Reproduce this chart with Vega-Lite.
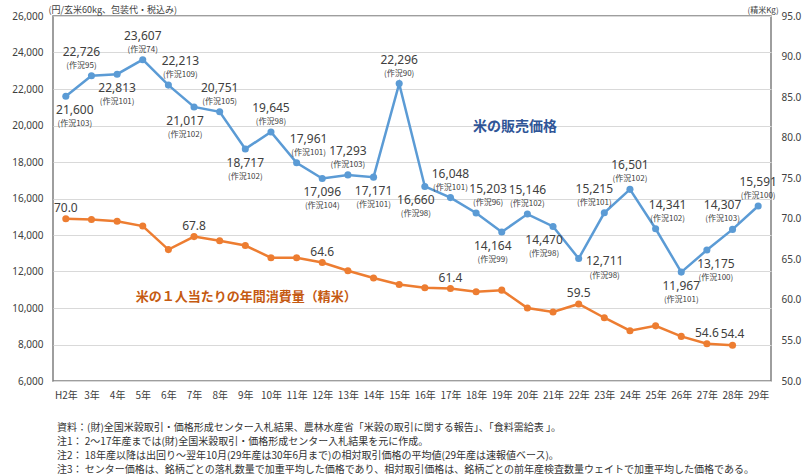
{
  "$schema": "https://vega.github.io/schema/vega-lite/v6.json",
  "width": 718,
  "height": 365,
  "autosize": {"type": "none"},
  "padding": {"left": 53, "top": 16, "right": 39, "bottom": 95},
  "background": "white",
  "config": {
    "view": {"stroke": "#7f7f7f", "strokeWidth": 1.5},
    "axis": {"labelColor": "#404040", "titleColor": "#404040"}
  },
  "title": {
    "text": [
      "資料：(財)全国米穀取引・価格形成センター入札結果、農林水産省「米穀の取引に関する報告」、「食料需給表 」。",
      "注1：  2～17年産までは(財)全国米穀取引・価格形成センター入札結果を元に作成。",
      "注2：  18年産以降は出回り～翌年10月(29年産は30年6月まで)の相対取引価格の平均値(29年産は速報値ベース)。",
      "注3：  センター価格は、銘柄ごとの落札数量で加重平均した価格であり、相対取引価格は、銘柄ごとの前年産検査数量ウェイトで加重平均した価格である。"
    ],
    "orient": "bottom",
    "anchor": "start",
    "frame": "group",
    "offset": 23,
    "dx": 4,
    "fontSize": 10,
    "fontWeight": "normal",
    "font": "Noto Sans CJK JP",
    "color": "#333333",
    "lineHeight": 14
  },
  "data": {
    "values": [
      {"year": "H2年", "price": 21600, "crop": "(作況103)", "cons": 70.0},
      {"year": "3年", "price": 22726, "crop": "(作況95)", "cons": 69.9},
      {"year": "4年", "price": 22813, "crop": "(作況101)", "cons": 69.7},
      {"year": "5年", "price": 23607, "crop": "(作況74)", "cons": 69.1},
      {"year": "6年", "price": 22213, "crop": "(作況109)", "cons": 66.2},
      {"year": "7年", "price": 21017, "crop": "(作況102)", "cons": 67.8},
      {"year": "8年", "price": 20751, "crop": "(作況105)", "cons": 67.3},
      {"year": "9年", "price": 18717, "crop": "(作況102)", "cons": 66.7},
      {"year": "10年", "price": 19645, "crop": "(作況98)", "cons": 65.2},
      {"year": "11年", "price": 17961, "crop": "(作況101)", "cons": 65.2},
      {"year": "12年", "price": 17096, "crop": "(作況104)", "cons": 64.6},
      {"year": "13年", "price": 17293, "crop": "(作況103)", "cons": 63.6},
      {"year": "14年", "price": 17171, "crop": "(作況101)", "cons": 62.7},
      {"year": "15年", "price": 22296, "crop": "(作況90)", "cons": 61.9},
      {"year": "16年", "price": 16660, "crop": "(作況98)", "cons": 61.5},
      {"year": "17年", "price": 16048, "crop": "(作況101)", "cons": 61.4},
      {"year": "18年", "price": 15203, "crop": "(作況96)", "cons": 61.0},
      {"year": "19年", "price": 14164, "crop": "(作況99)", "cons": 61.2},
      {"year": "20年", "price": 15146, "crop": "(作況102)", "cons": 59.0},
      {"year": "21年", "price": 14470, "crop": "(作況98)", "cons": 58.5},
      {"year": "22年", "price": 12711, "crop": "(作況98)", "cons": 59.5},
      {"year": "23年", "price": 15215, "crop": "(作況101)", "cons": 57.8},
      {"year": "24年", "price": 16501, "crop": "(作況102)", "cons": 56.2},
      {"year": "25年", "price": 14341, "crop": "(作況102)", "cons": 56.8},
      {"year": "26年", "price": 11967, "crop": "(作況101)", "cons": 55.5},
      {"year": "27年", "price": 13175, "crop": "(作況100)", "cons": 54.6},
      {"year": "28年", "price": 14307, "crop": "(作況103)", "cons": 54.4},
      {"year": "29年", "price": 15591, "crop": "(作況100)"}
    ]
  },
  "encoding": {
    "x": {
      "field": "year",
      "type": "ordinal",
      "sort": null,
      "scale": {
        "type": "point",
        "padding": 0.5,
        "domain": ["H2年", "3年", "4年", "5年", "6年", "7年", "8年", "9年", "10年", "11年", "12年", "13年", "14年", "15年", "16年", "17年", "18年", "19年", "20年", "21年", "22年", "23年", "24年", "25年", "26年", "27年", "28年", "29年"]
      },
      "axis": {
        "title": null,
        "labelAngle": 0,
        "ticks": false,
        "domain": false,
        "labelPadding": 9,
        "labelFont": "Noto Sans CJK JP",
        "labelFontSize": 10,
        "labelColor": "#404040"
      }
    }
  },
  "layer": [
    {
      "encoding": {
        "y": {
          "field": "price",
          "type": "quantitative",
          "scale": {"domain": [6000, 26000], "nice": false, "zero": false},
          "axis": {
            "orient": "left",
            "values": [6000, 8000, 10000, 12000, 14000, 16000, 18000, 20000, 22000, 24000, 26000],
            "format": ",d",
            "grid": true,
            "gridColor": "#d9d9d9",
            "gridWidth": 1,
            "domain": false,
            "ticks": false,
            "labelPadding": 10,
            "labelFont": "Noto Sans",
            "labelFontSize": 10,
            "title": "(円/玄米60kg、包装代・税込み)",
            "titleAngle": 0,
            "titleX": -5,
            "titleY": -7,
            "titleAlign": "left",
            "titleBaseline": "middle",
            "titleFont": "Noto Sans CJK JP",
            "titleFontSize": 9,
            "titleFontWeight": "normal"
          }
        }
      },
      "layer": [
        {"mark": {"type": "line", "color": "#5B9BD5", "strokeWidth": 2.5}},
        {"mark": {"type": "circle", "color": "#5B9BD5", "size": 50, "opacity": 1}},
        {
          "transform": [{"filter": {"field": "year", "oneOf": ["5年", "8年", "10年", "13年", "15年", "17年", "20年", "24年", "29年"]}}],
          "mark": {"type": "text", "dy": -24, "font": "Noto Sans", "fontSize": 12, "color": "#404040", "baseline": "middle"},
          "encoding": {"text": {"field": "price", "type": "quantitative", "format": ",d"}}
        },
        {
          "transform": [{"filter": {"field": "year", "oneOf": ["5年", "8年", "10年", "13年", "15年", "17年", "20年", "24年", "29年"]}}],
          "mark": {"type": "text", "dy": -10, "font": "Noto Sans CJK JP", "fontSize": 8, "color": "#404040", "baseline": "middle"},
          "encoding": {"text": {"field": "crop"}}
        },
        {
          "transform": [{"filter": {"field": "year", "oneOf": ["6年", "11年", "18年", "25年"]}}],
          "mark": {"type": "text", "dy": -24, "dx": 12, "font": "Noto Sans", "fontSize": 12, "color": "#404040", "baseline": "middle"},
          "encoding": {"text": {"field": "price", "type": "quantitative", "format": ",d"}}
        },
        {
          "transform": [{"filter": {"field": "year", "oneOf": ["6年", "11年", "18年", "25年"]}}],
          "mark": {"type": "text", "dy": -10, "dx": 12, "font": "Noto Sans CJK JP", "fontSize": 8, "color": "#404040", "baseline": "middle"},
          "encoding": {"text": {"field": "crop"}}
        },
        {
          "transform": [{"filter": {"field": "year", "oneOf": ["3年", "23年", "28年"]}}],
          "mark": {"type": "text", "dy": -24, "dx": -10, "font": "Noto Sans", "fontSize": 12, "color": "#404040", "baseline": "middle"},
          "encoding": {"text": {"field": "price", "type": "quantitative", "format": ",d"}}
        },
        {
          "transform": [{"filter": {"field": "year", "oneOf": ["3年", "23年", "28年"]}}],
          "mark": {"type": "text", "dy": -10, "dx": -10, "font": "Noto Sans CJK JP", "fontSize": 8, "color": "#404040", "baseline": "middle"},
          "encoding": {"text": {"field": "crop"}}
        },
        {
          "transform": [{"filter": {"field": "year", "oneOf": ["4年", "9年", "12年", "14年", "26年"]}}],
          "mark": {"type": "text", "dy": 14, "font": "Noto Sans", "fontSize": 12, "color": "#404040", "baseline": "middle"},
          "encoding": {"text": {"field": "price", "type": "quantitative", "format": ",d"}}
        },
        {
          "transform": [{"filter": {"field": "year", "oneOf": ["4年", "9年", "12年", "14年", "26年"]}}],
          "mark": {"type": "text", "dy": 28, "font": "Noto Sans CJK JP", "fontSize": 8, "color": "#404040", "baseline": "middle"},
          "encoding": {"text": {"field": "crop"}}
        },
        {
          "transform": [{"filter": {"field": "year", "oneOf": ["7年", "16年", "19年", "21年"]}}],
          "mark": {"type": "text", "dy": 14, "dx": -9, "font": "Noto Sans", "fontSize": 12, "color": "#404040", "baseline": "middle"},
          "encoding": {"text": {"field": "price", "type": "quantitative", "format": ",d"}}
        },
        {
          "transform": [{"filter": {"field": "year", "oneOf": ["7年", "16年", "19年", "21年"]}}],
          "mark": {"type": "text", "dy": 28, "dx": -9, "font": "Noto Sans CJK JP", "fontSize": 8, "color": "#404040", "baseline": "middle"},
          "encoding": {"text": {"field": "crop"}}
        },
        {
          "transform": [{"filter": {"field": "year", "oneOf": ["H2年", "27年"]}}],
          "mark": {"type": "text", "dy": 14, "dx": 9, "font": "Noto Sans", "fontSize": 12, "color": "#404040", "baseline": "middle"},
          "encoding": {"text": {"field": "price", "type": "quantitative", "format": ",d"}}
        },
        {
          "transform": [{"filter": {"field": "year", "oneOf": ["H2年", "27年"]}}],
          "mark": {"type": "text", "dy": 28, "dx": 9, "font": "Noto Sans CJK JP", "fontSize": 8, "color": "#404040", "baseline": "middle"},
          "encoding": {"text": {"field": "crop"}}
        },
        {
          "transform": [{"filter": {"field": "year", "oneOf": ["22年"]}}],
          "mark": {"type": "text", "dx": 26, "dy": 2, "font": "Noto Sans", "fontSize": 12, "color": "#404040", "baseline": "middle"},
          "encoding": {"text": {"field": "price", "type": "quantitative", "format": ",d"}}
        },
        {
          "transform": [{"filter": {"field": "year", "oneOf": ["22年"]}}],
          "mark": {"type": "text", "dx": 26, "dy": 17, "font": "Noto Sans CJK JP", "fontSize": 8, "color": "#404040", "baseline": "middle"},
          "encoding": {"text": {"field": "crop"}}
        },
        {
          "transform": [{"filter": {"field": "year", "equal": "18年"}}],
          "mark": {"type": "text", "align": "left", "baseline": "middle", "dx": -3, "font": "Noto Sans CJK JP", "fontSize": 14, "fontWeight": "bold", "color": "#2F5597"},
          "encoding": {
            "y": {"datum": 19900, "type": "quantitative"},
            "text": {"value": "米の販売価格"}
          }
        }
      ]
    },
    {
      "encoding": {
        "y": {
          "field": "cons",
          "type": "quantitative",
          "scale": {"domain": [50, 95], "nice": false, "zero": false},
          "axis": {
            "orient": "right",
            "values": [50, 55, 60, 65, 70, 75, 80, 85, 90, 95],
            "format": ".1f",
            "grid": false,
            "domain": false,
            "ticks": false,
            "labelPadding": 10,
            "labelFont": "Noto Sans",
            "labelFontSize": 10,
            "title": "(精米Kg)",
            "titleAngle": 0,
            "titleX": -24,
            "titleY": -6,
            "titleAlign": "left",
            "titleBaseline": "middle",
            "titleFont": "Noto Sans CJK JP",
            "titleFontSize": 8,
            "titleFontWeight": "normal"
          }
        }
      },
      "layer": [
        {"mark": {"type": "line", "color": "#ED7D31", "strokeWidth": 2.5}},
        {"mark": {"type": "circle", "color": "#ED7D31", "size": 50, "opacity": 1}},
        {
          "transform": [{"filter": {"field": "year", "oneOf": ["H2年", "7年", "12年", "17年", "22年", "27年", "28年"]}}],
          "mark": {"type": "text", "dy": -11, "font": "Noto Sans", "fontSize": 12, "color": "#404040", "baseline": "middle"},
          "encoding": {"text": {"field": "cons", "type": "quantitative", "format": ".1f"}}
        },
        {
          "transform": [{"filter": {"field": "year", "equal": "5年"}}],
          "mark": {"type": "text", "align": "left", "baseline": "middle", "dx": -7, "font": "Noto Sans CJK JP", "fontSize": 13, "fontWeight": "bold", "color": "#C55A11"},
          "encoding": {
            "y": {"datum": 60.4, "type": "quantitative"},
            "text": {"value": "米の１人当たりの年間消費量（精米）"}
          }
        }
      ]
    }
  ],
  "resolve": {"scale": {"y": "independent"}}
}
